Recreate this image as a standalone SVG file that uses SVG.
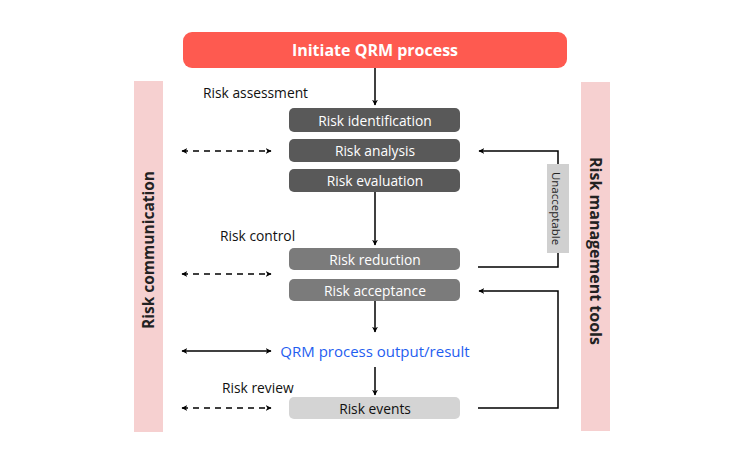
<svg xmlns="http://www.w3.org/2000/svg" width="744" height="462" viewBox="0 0 744 462">
<style>
text{font-family:"Open Sans","Liberation Sans",sans-serif}
.bt{fill:#fff;font-size:13.8px;text-anchor:middle;dominant-baseline:central}
.lbl{fill:#111;font-size:13.8px}
.ln{stroke:#000;stroke-width:1.5;fill:none}
.dash{stroke-dasharray:6 5}
</style>
<defs>
<marker id="ah" viewBox="0 0 10 10" refX="9" refY="5" markerWidth="6" markerHeight="6" orient="auto-start-reverse" markerUnits="userSpaceOnUse">
<path d="M0,0 L10,5 L0,10 L3,5 z" fill="#000"/>
</marker>
</defs>
<rect width="744" height="462" fill="#fff"/>
<g id="side-left">
<rect x="134" y="81" width="29" height="351" fill="#f6d0d0"/>
<text transform="translate(154,250) rotate(-90)" text-anchor="middle" font-size="15.5" font-weight="bold" fill="#222">Risk communication</text>
</g>
<g id="side-right">
<rect x="581" y="82" width="29" height="349" fill="#f6d0d0"/>
<text transform="translate(590,251) rotate(90)" text-anchor="middle" font-size="16" font-weight="bold" fill="#222">Risk management tools</text>
</g>
<g id="initiate">
<rect x="183" y="32" width="384" height="36" rx="9" fill="#fe5a50"/>
<text x="375" y="50" text-anchor="middle" dominant-baseline="central" font-size="16" font-weight="bold" fill="#fff">Initiate QRM process</text>
</g>
<g id="labels">
<text class="lbl" x="203" y="98">Risk assessment</text>
<text class="lbl" x="220" y="241">Risk control</text>
<text class="lbl" x="222" y="393">Risk review</text>
</g>
<g id="risk-identification">
<rect x="289" y="108" width="171" height="24" rx="5" fill="#595959"/>
<text class="bt" x="375" y="120">Risk identification</text>
</g>
<g id="risk-analysis">
<rect x="289" y="139" width="171" height="23" rx="5" fill="#595959"/>
<text class="bt" x="375" y="150.5">Risk analysis</text>
</g>
<g id="risk-evaluation">
<rect x="289" y="169" width="171" height="23" rx="5" fill="#595959"/>
<text class="bt" x="375" y="180.5">Risk evaluation</text>
</g>
<g id="risk-reduction">
<rect x="289" y="248" width="171" height="22" rx="5" fill="#7b7b7b"/>
<text class="bt" x="375" y="259">Risk reduction</text>
</g>
<g id="risk-acceptance">
<rect x="289" y="279" width="171" height="22" rx="5" fill="#7b7b7b"/>
<text class="bt" x="375" y="290">Risk acceptance</text>
</g>
<g id="qrm-output">
<text x="375" y="351" text-anchor="middle" dominant-baseline="central" font-size="15" fill="#1f5ef0">QRM process output/result</text>
</g>
<g id="risk-events">
<rect x="289" y="397" width="171" height="22" rx="5" fill="#d4d4d4"/>
<text x="375" y="408" text-anchor="middle" dominant-baseline="central" font-size="13.8" fill="#111">Risk events</text>
</g>
<g id="unacceptable">
<rect x="547" y="164" width="22" height="89" fill="#d0d0d0"/>
<text transform="translate(556,208.5) rotate(90)" text-anchor="middle" dominant-baseline="central" font-size="11.5" fill="#222">Unacceptable</text>
</g>
<g id="connectors">
<line class="ln" x1="375" y1="68" x2="375" y2="105" marker-end="url(#ah)"/>
<line class="ln" x1="375" y1="192" x2="375" y2="245" marker-end="url(#ah)"/>
<line class="ln" x1="375" y1="301" x2="375" y2="332" marker-end="url(#ah)"/>
<line class="ln" x1="375" y1="367" x2="375" y2="395" marker-end="url(#ah)"/>
<line class="ln dash" x1="182" y1="151" x2="271" y2="151" marker-start="url(#ah)" marker-end="url(#ah)"/>
<line class="ln dash" x1="182" y1="274" x2="271" y2="274" marker-start="url(#ah)" marker-end="url(#ah)"/>
<line class="ln" x1="182" y1="351" x2="271" y2="351" marker-start="url(#ah)" marker-end="url(#ah)"/>
<line class="ln dash" x1="182" y1="408" x2="271" y2="408" marker-start="url(#ah)" marker-end="url(#ah)"/>
<polyline class="ln" points="478,267 558,267 558,253"/>
<polyline class="ln" points="558,164 558,151 479,151" marker-end="url(#ah)"/>
<polyline class="ln" points="478,408 558,408 558,291 479,291" marker-end="url(#ah)"/>
</g>
</svg>
